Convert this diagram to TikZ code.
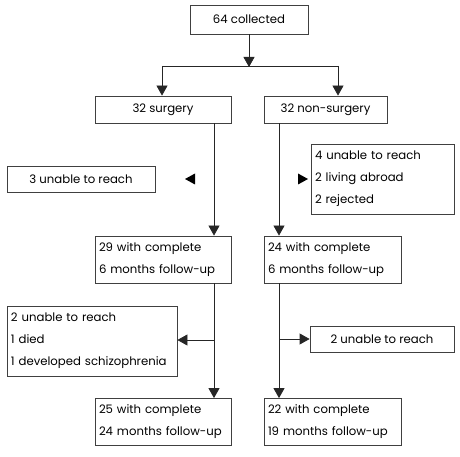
\documentclass[tikz,border=0pt]{standalone}
\usepackage{fontspec}
\setmainfont{Poppins}
\usetikzlibrary{arrows.meta}
\begin{document}
\begin{tikzpicture}[x=1bp,y=-1bp,
  box/.style={draw=black!75, line width=0.8bp, inner xsep=4bp, inner ysep=0pt, font=\fontsize{11.7bp}{22bp}\selectfont, anchor=center},
  cbox/.style={box, align=center},
  lbox/.style={box, align=left},
  conn/.style={draw=black!85, line width=0.8bp},
  arr/.style={conn, -{Triangle[width=11bp,length=10bp]}},
  tri/.style={fill=black}]
\useasboundingbox (0,0) rectangle (460,457);
% boxes
\node[cbox, minimum width=118bp, minimum height=29bp] (c64) at (249,19.5) {64 collected};
\node[cbox, minimum width=136bp, minimum height=27bp] (surg) at (163,109.5) {32 surgery};
\node[cbox, minimum width=123bp, minimum height=27bp] (nons) at (325.5,109.5) {32 non-surgery};
\node[cbox, minimum width=148bp, minimum height=26bp] (u3) at (81,179) {3 unable to reach};
\node[lbox, text width=135bp, minimum height=70bp] (u4) at (382.5,179) {4 unable to reach\\2 living abroad\\2 rejected};
\node[lbox, text width=128bp, minimum height=47bp] (f29) at (163,259.5) {29 with complete\\6 months follow-up};
\node[lbox, text width=129bp, minimum height=47bp] (f24) at (332.5,259.5) {24 with complete\\6 months follow-up};
\node[lbox, text width=162bp, minimum height=70bp] (u2l) at (92,341) {2 unable to reach\\1 died\\1 developed schizophrenia};
\node[cbox, minimum width=144bp, minimum height=26bp] (u2r) at (382,339) {2 unable to reach};
\node[lbox, text width=128bp, minimum height=47bp] (f25) at (163,422) {25 with complete\\24 months follow-up};
\node[lbox, text width=129bp, minimum height=47bp] (f22) at (332.5,422) {22 with complete\\19 months follow-up};
% junction coordinates
\coordinate (j0) at (249,66);
\coordinate (jl) at (214,66);
\coordinate (jr) at (338,66);
\coordinate (jl0) at (162,66);
\coordinate (sl) at (214,340);
\coordinate (sr) at (279,339);
% connectors
\draw[conn] (c64.south) -- (j0);
\draw[arr] (c64.south) -- ([yshift=-1bp]j0);
\draw[conn] (jl0) -- (jr);
\draw[arr] (jl0) -- (jl0 |- surg.north);
\draw[arr] (jr) -- (jr |- nons.north);
\draw[arr] (surg.south -| sl) -- (f29.north -| sl);
\draw[arr] (nons.south -| sr) -- (f24.north -| sr);
\draw[arr] (f29.south -| sl) -- (f25.north -| sl);
\draw[arr] (f24.south -| sr) -- (f22.north -| sr);
\draw[arr] (sl) -- (u2l.east |- sl);
\draw[arr] (sr) -- (u2r.west |- sr);
% floating arrowheads
\coordinate (tl) at (185,179);
\coordinate (tr) at (308,179);
\fill[tri] (tl) -- ++(10,-5.5) -- ++(0,11) -- cycle;
\fill[tri] (tr) -- ++(-10,-5.5) -- ++(0,11) -- cycle;
\end{tikzpicture}
\end{document}
